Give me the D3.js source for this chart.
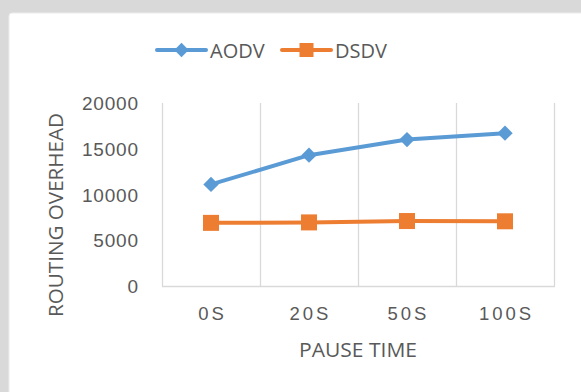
<!DOCTYPE html>
<html><head><meta charset="utf-8">
<script src="https://cdn.jsdelivr.net/npm/d3@7"></script>
<style>
html,body{margin:0;padding:0;background:#d9d9d9;}
svg{display:block;font-family:"Open Sans","Noto Sans",sans-serif;}
</style></head>
<body>
<svg id="c" width="581" height="392"></svg>
<script>
const categories = ["0S","20S","50S","100S"];
const aodv = [11100, 14300, 16000, 16700];
const dsdv = [6900, 6950, 7100, 7070];
const yTicks = [0, 5000, 10000, 15000, 20000];
const seriesNames = ["AODV","DSDV"];
const colors = ["#5b9bd5","#ed7d31"];

(function(){
const svg = d3.select("#c");
const txt = "#595959";
svg.append("rect").attr("x",0).attr("y",0).attr("width",581).attr("height",392).attr("fill","#d9d9d9");
svg.append("rect").attr("x",9).attr("y",13).attr("width",580).attr("height",390).attr("rx",3).attr("fill","#ffffff").attr("stroke","#ececec");

const pL=162, pR=554, pT=103, pB=286;
const x = d3.scaleBand().domain(categories).range([pL,pR]).padding(0);
const y = d3.scaleLinear().domain([0,20000]).range([pB,pT]);

// vertical gridlines at category boundaries
const bounds = categories.map(c=>x(c)).concat([x(categories[categories.length-1])+x.bandwidth()]);
svg.append("g").selectAll("line").data(bounds).join("line")
  .attr("x1",d=>d+0.5).attr("x2",d=>d+0.5).attr("y1",pT).attr("y2",pB)
  .attr("stroke","#d9d9d9").attr("stroke-width",1.3);
svg.append("line").attr("x1",pL).attr("x2",pR+1).attr("y1",pB+0.5).attr("y2",pB+0.5)
  .attr("stroke","#d9d9d9").attr("stroke-width",1.3);

// y axis labels
const yAxis = d3.axisLeft(y).tickValues(yTicks).tickSize(0).tickPadding(0).tickFormat(d3.format("d"));
const ga = svg.append("g").attr("transform",`translate(138,0)`).call(yAxis);
ga.select(".domain").remove();
ga.selectAll("text").attr("fill",txt).style("font-size","19px").style("letter-spacing","0.8px").attr("dy","0.35em").attr("dx","0.8");

// x axis labels
const xAxis = d3.axisBottom(x).tickSize(0).tickPadding(0);
const gx = svg.append("g").attr("transform",`translate(0,${pB})`).call(xAxis);
gx.select(".domain").remove();
gx.selectAll("text").attr("fill",txt).style("font-size","18.5px").style("letter-spacing","3px")
  .attr("y",34).attr("dy",0).attr("dx","1.5");

// titles
svg.append("text").attr("x",358).attr("y",357).attr("text-anchor","middle").attr("fill",txt)
  .style("font-size","20.5px").attr("textLength",118).attr("lengthAdjust","spacingAndGlyphs").text("PAUSE TIME");
svg.append("text").attr("transform","translate(63,215) rotate(-90)").attr("text-anchor","middle").attr("fill",txt)
  .style("font-size","20.5px").attr("textLength",204).attr("lengthAdjust","spacingAndGlyphs").text("ROUTING OVERHEAD");

// lines
const line = d3.line().x((d,i)=>x(categories[i])+x.bandwidth()/2).y(d=>y(d));
[aodv,dsdv].forEach((s,k)=>{
  svg.append("path").datum(s).attr("d",line).attr("fill","none").attr("stroke",colors[k])
    .attr("stroke-width",4).attr("stroke-linejoin","round").attr("stroke-linecap","round");
});
const diamond = d3.symbol().type(d3.symbolDiamond2).size(150);
svg.append("g").selectAll("path").data(aodv).join("path")
  .attr("d",diamond).attr("fill",colors[0])
  .attr("transform",(d,i)=>`translate(${x(categories[i])+x.bandwidth()/2},${y(d)})`);
svg.append("g").selectAll("rect").data(dsdv).join("rect")
  .attr("x",(d,i)=>x(categories[i])+x.bandwidth()/2-8).attr("y",d=>y(d)-8)
  .attr("width",16).attr("height",16).attr("fill",colors[1]);

// legend
const lg = svg.append("g");
const legX = [157, 282];
seriesNames.forEach((n,k)=>{
  const g = lg.append("g").attr("transform",`translate(${legX[k]},50)`);
  g.append("line").attr("x1",0).attr("x2",49).attr("y1",0).attr("y2",0).attr("stroke",colors[k]).attr("stroke-width",4).attr("stroke-linecap","round");
  if(k===0) g.append("path").attr("d",d3.symbol().type(d3.symbolDiamond2).size(130)).attr("transform","translate(24.5,0)").attr("fill",colors[k]);
  else g.append("rect").attr("x",24.5-7).attr("y",-7).attr("width",14).attr("height",14).attr("fill",colors[k]);
  g.append("text").attr("x",53).attr("y",7.5).attr("fill",txt).style("font-size","20px").text(n);
});
})();
</script>
</body></html>
